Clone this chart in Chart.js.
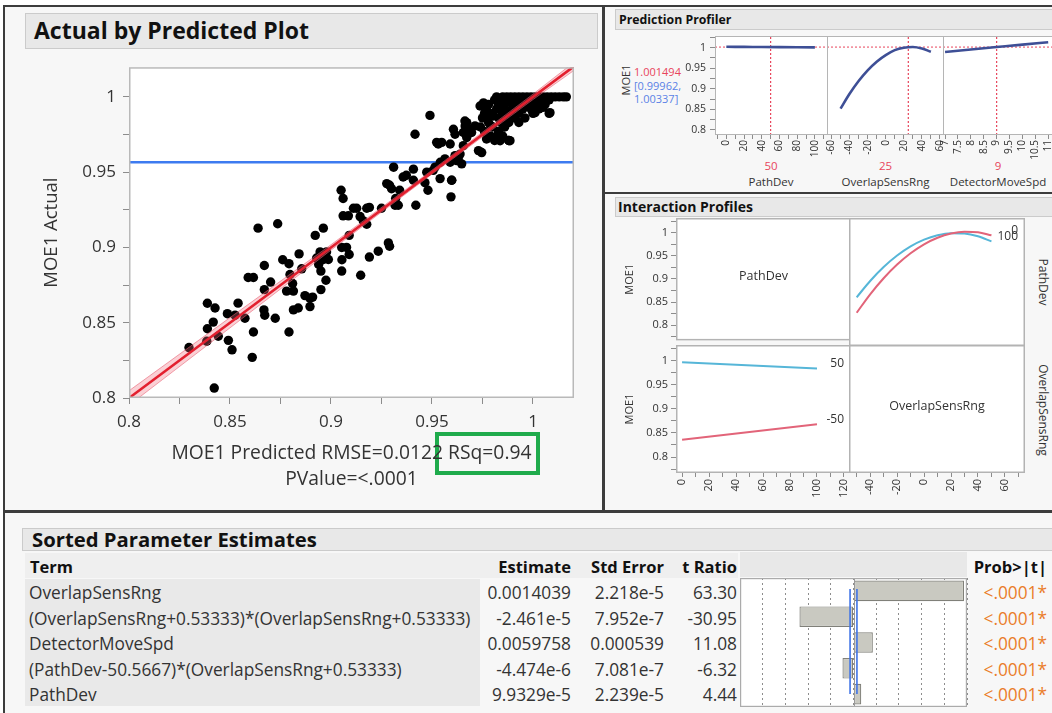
<!DOCTYPE html>
<html><head><meta charset="utf-8">
<script src="https://cdn.jsdelivr.net/npm/chart.js@4.4.1/dist/chart.umd.min.js"></script>
<style>
html,body{margin:0;padding:0}
body{width:1052px;height:713px;position:relative;overflow:hidden;background:#fff;font-family:'Open Sans',sans-serif;color:#222}
.abs{position:absolute;white-space:nowrap}
.pan{position:absolute;background:#f7f7f7}
.hdr{position:absolute;background:#e8e8e8;border:1px solid #cbcbcb;box-sizing:border-box;font-weight:bold;color:#111;white-space:nowrap;overflow:hidden}
.ln{position:absolute;background:#3c3c3c}
canvas{position:absolute}
.c{transform:translate(-50%,-50%)}
</style></head><body>
<div class="pan" style="left:5px;top:7px;width:598px;height:504px"></div>
<div class="pan" style="left:605px;top:7px;width:447px;height:185px"></div>
<div class="pan" style="left:605px;top:194px;width:447px;height:317px"></div>
<div class="pan" style="left:5px;top:513px;width:1047px;height:200px"></div>
<div class="ln" style="left:3px;top:5px;width:1049px;height:2px"></div>
<div class="ln" style="left:3px;top:5px;width:2px;height:708px"></div>
<div class="ln" style="left:602px;top:5px;width:3px;height:507px"></div>
<div class="ln" style="left:3px;top:510px;width:1049px;height:3px"></div>
<div class="ln" style="left:605px;top:192px;width:447px;height:2px"></div>

<div class="hdr" style="left:25px;top:13px;width:573px;height:36px;font-size:23px;line-height:33px;padding-left:8px">Actual by Predicted Plot</div>
<div class="hdr" style="left:615px;top:9px;width:440px;height:21px;font-size:12.3px;line-height:19px;padding-left:3px">Prediction Profiler</div>
<div class="hdr" style="left:615px;top:197px;width:440px;height:20px;font-size:14px;line-height:18px;padding-left:2px">Interaction Profiles</div>
<div class="hdr" style="left:22px;top:528px;width:1035px;height:23px;font-size:20.3px;line-height:21px;padding-left:9px">Sorted Parameter Estimates</div>

<div id="extra"></div>

<script>
// ---------------- DATA ----------------
const predicted = [0.8297,0.8422,0.8388,0.8426,0.8388,0.8385,0.8417,0.8442,0.8492,0.8510,0.8487,0.8540,0.8525,0.8574,0.8616,0.8610,0.8590,0.8616,0.8670,0.8670,0.8668,0.8672,0.8701,0.8724,0.8639,0.8736,0.8761,0.8792,0.8797,0.8780,0.8814,0.8810,0.8792,0.8814,0.8838,0.8855,0.8842,0.8871,0.8909,0.8896,0.8922,0.8962,0.8929,0.8939,0.8950,0.8962,0.8978,0.8987,0.8975,0.8950,0.9050,0.9060,0.9060,0.9086,0.9090,0.9053,0.9077,0.9090,0.9054,0.9053,0.9147,0.9127,0.9177,0.9190,0.9160,0.9177,0.9190,0.9234,0.9284,0.9290,0.9250,0.9290,0.9310,0.9300,0.9320,0.9340,0.9357,0.9333,0.9408,0.9420,0.9416,0.9490,0.9408,0.9465,0.9480,0.9515,0.9523,0.9548,0.9590,0.9606,0.9597,0.9594,0.9590,0.9622,0.9639,0.9655,0.9664,0.9672,0.9696,0.9713,0.9730,0.9746,0.9738,0.9755,0.9762,0.9770,0.9790,0.9804,0.9820,0.9838,0.9880,0.9860,1.0002,1.0084,1.0050,
0.8896,0.8946,0.9111,0.9144,0.9276,0.9317,0.9373,0.9474,0.9541,0.9564,0.9614,0.9672,0.9688,0.9531,0.9614,0.9663,0.9655,0.9688,0.9787,0.9828,0.9837,0.9886,1.0010,0.9506,0.9540,0.9598,0.9630,0.9647,
0.982,0.985,0.987,0.989,0.991,0.993,0.995,0.997,0.999,1.001,1.003,1.005,1.007,1.009,1.011,1.013,1.015,1.0165,
0.981,0.984,0.988,0.992,0.996,1.000,1.004,1.008,
0.978,0.983,0.986,0.990,0.994,0.998,1.002,1.006,
0.977,0.982,0.986,0.990,0.995,0.999,1.003,
0.976,0.980,0.985,0.989,0.993,1.000,1.008,
0.975,0.983,0.987,0.991,0.996,
0.978,0.984,0.988,0.993,
0.974,0.980,0.986,
0.976,0.983,0.979,0.985,0.981,0.988];
const actual = [0.8335,0.8066,0.8629,0.8598,0.8460,0.8377,0.8504,0.8410,0.8383,0.8320,0.8560,0.8630,0.8550,0.8530,0.8438,0.8270,0.8800,0.8800,0.8880,0.8720,0.8585,0.8550,0.8770,0.8530,0.9128,0.9157,0.8918,0.8892,0.8820,0.8710,0.8710,0.8760,0.8438,0.8585,0.8598,0.8858,0.8957,0.8680,0.8670,0.8607,0.9080,0.9128,0.8930,0.8887,0.8843,0.8920,0.8970,0.8920,0.8782,0.8720,0.9380,0.9325,0.9210,0.9210,0.9080,0.9000,0.9000,0.8953,0.8918,0.8843,0.8815,0.9260,0.9260,0.9266,0.9176,0.9154,0.8936,0.8975,0.9030,0.9008,0.9260,0.9413,0.9533,0.9390,0.9325,0.9380,0.9468,0.9280,0.9520,0.9280,0.9752,0.9877,0.9446,0.9430,0.9380,0.9533,0.9698,0.9698,0.9687,0.9785,0.9446,0.9336,0.9566,0.9577,0.9620,0.9676,0.9807,0.9730,0.9763,0.9807,0.9643,0.9630,0.9939,0.9960,0.9763,0.9720,0.9810,0.9873,0.9720,0.9730,0.9710,0.9890,0.9895,0.9895,0.9930,
0.8662,0.8970,0.9260,0.9205,0.9424,0.9280,0.9479,0.9500,0.9566,0.9588,0.9610,0.9829,0.9773,0.9687,0.9752,0.9840,0.9763,0.9785,0.9873,0.9752,0.9709,0.9709,0.9895,0.9512,0.9457,0.9446,0.9588,0.9555,
1.000,1.000,1.000,1.000,1.000,1.000,1.000,1.000,1.000,1.000,1.000,1.000,1.000,1.000,1.000,1.000,1.000,1.000,
0.998,0.998,0.998,0.998,0.998,0.998,0.998,0.998,
0.995,0.995,0.995,0.995,0.995,0.995,0.995,0.995,
0.992,0.992,0.992,0.992,0.992,0.992,0.992,
0.989,0.989,0.989,0.989,0.989,0.989,0.989,
0.986,0.986,0.986,0.986,0.986,
0.983,0.983,0.983,0.983,
0.980,0.980,0.980,
0.977,0.977,0.974,0.974,0.971,0.971];
const fitX = [0.8, 1.0203];
const fitY = [0.8, 1.0203];
const bandX = [0.8, 0.85, 0.9, 0.95, 1.0, 1.0203];
const bandLo = [0.7952, 0.8466, 0.8982, 0.9487, 0.9982, 1.0176];
const bandHi = [0.8048, 0.8534, 0.9018, 0.9513, 1.0018, 1.0230];
const meanActual = 0.9566;
const fitStats = ['MOE1 Predicted RMSE=0.0122 RSq=0.94', 'PValue=<.0001'];

const profFactors = ['PathDev', 'OverlapSensRng', 'DetectorMoveSpd'];
const profSettings = [50, 25, 9];
const profPred = 1.001494;
const profCI = ['[0.99962,', '1.00337]'];
const pathDevGrid = [0, 20, 40, 60, 80, 100];
const profPathDev = [1.0022, 1.0019, 1.0016, 1.0013, 1.0010, 1.0007];
const overlapGrid = [-50, -40, -30, -20, -10, 0, 10, 20, 30, 40, 50];
const profOverlap = [0.852, 0.888, 0.919, 0.945, 0.966, 0.982, 0.994, 1.000, 1.0016, 0.998, 0.990];
const detGrid = [7, 8, 9, 10, 11];
const profDet = [0.9895, 0.9955, 1.0015, 1.0075, 1.0134];

const intOverlapGrid = [-50, -40, -30, -20, -10, 0, 10, 20, 30, 40, 50];
const intPathLevels = ['0', '100'];
const intPath0 = [0.8358, 0.8740, 0.9073, 0.9356, 0.9590, 0.9775, 0.9911, 0.9998, 1.0035, 1.0023, 0.9962];
const intPath100 = [0.8679, 0.9016, 0.9304, 0.9542, 0.9732, 0.9872, 0.9963, 1.0005, 0.9998, 0.9941, 0.9835];
const intPathGrid = [0, 100];
const intOverlapLevels = ['50', '-50'];
const intOv50 = [0.9962, 0.9835];
const intOvm50 = [0.8358, 0.8679];

const terms = ['OverlapSensRng', '(OverlapSensRng+0.53333)*(OverlapSensRng+0.53333)', 'DetectorMoveSpd', '(PathDev-50.5667)*(OverlapSensRng+0.53333)', 'PathDev'];
const estimates = ['0.0014039', '-2.461e-5', '0.0059758', '-4.474e-6', '9.9329e-5'];
const stdErrors = ['2.218e-5', '7.952e-7', '0.000539', '7.081e-7', '2.239e-5'];
const tRatios = [63.30, -30.95, 11.08, -6.32, 4.44];
const probs = ['<.0001*', '<.0001*', '<.0001*', '<.0001*', '<.0001*'];
const tCrit = 1.97;

// ---------------- HELPERS ----------------
const FONT = "'Open Sans', sans-serif";
Chart.defaults.font.family = FONT;
Chart.defaults.color = '#333';
Chart.defaults.animation = false;
Chart.defaults.devicePixelRatio = 1;
Chart.defaults.plugins.legend.display = false;
Chart.defaults.plugins.tooltip.enabled = false;

const framePlugin = {
  id: 'frame',
  beforeDraw(chart, a, o) {
    if (!o.bg) return;
    const c = chart.ctx, r = chart.chartArea;
    c.save(); c.fillStyle = o.bg; c.fillRect(r.left, r.top, r.right - r.left, r.bottom - r.top); c.restore();
  },
  afterDraw(chart, a, o) {
    if (!o.color) return;
    const c = chart.ctx, r = chart.chartArea, w = o.width || 1;
    c.save(); c.strokeStyle = o.color; c.lineWidth = w;
    c.strokeRect(r.left + w / 2, r.top + w / 2, r.right - r.left - w, r.bottom - r.top - w);
    c.restore();
  }
};
const textPlugin = {
  id: 'cellText',
  afterDraw(chart, a, o) {
    const c = chart.ctx, r = chart.chartArea;
    c.save(); c.font = (o.size || 12) + 'px ' + FONT; c.fillStyle = '#333';
    if (o.center) { c.textAlign = 'center'; c.textBaseline = 'middle'; c.fillText(o.center, (r.left + r.right) / 2, (r.top + r.bottom) / 2 - 3); }
    if (o.endLabels) {
      c.textAlign = 'right'; c.textBaseline = 'middle';
      chart.data.datasets.forEach((ds, i) => {
        if (!o.endLabels[i]) return;
        const meta = chart.getDatasetMeta(i); const p = meta.data[meta.data.length - 1];
        c.fillText(o.endLabels[i], r.right - 7, p.y - 4.5);
      });
    }
    c.restore();
  }
};
Chart.register(framePlugin, textPlugin);

function mk(area, m) {
  const cv = document.createElement('canvas');
  cv.width = area[2] - area[0] + m.l + m.r;
  cv.height = area[3] - area[1] + m.t + m.b;
  cv.style.left = (area[0] - m.l) + 'px';
  cv.style.top = (area[1] - m.t) + 'px';
  document.body.appendChild(cv);
  return cv;
}
const isMul = (v, s) => Math.abs(v / s - Math.round(v / s)) < 1e-6;
function axis(o) {
  const vert = o.pos === 'left' || o.pos === 'right';
  const shown = o.show !== false;
  return {
    type: 'linear', position: o.pos, min: o.min, max: o.max, display: shown,
    afterFit: s => { if (!shown) return; if (vert) s.width = o.fit; else s.height = o.fit; },
    grid: { display: true, drawOnChartArea: false, drawTicks: true, tickLength: o.tick || 5, tickColor: '#8c8c8c', tickWidth: 1 },
    border: { display: false },
    title: o.title ? { display: true, text: o.title, color: '#333', font: { size: o.tsize || 12, family: FONT, lineHeight: o.tlh || 1.2 }, padding: 4 } : { display: false },
    ticks: {
      display: o.labels !== false, stepSize: o.step, includeBounds: false, autoSkip: false,
      maxRotation: o.rot || 0, minRotation: o.rot || 0, padding: o.pad == null ? 3 : o.pad,
      color: '#333', font: { size: o.size || 11, family: FONT },
      callback: v => isMul(v, o.major) ? String(+v.toFixed(3)) : ''
    }
  };
}
const pts = (xs, ys) => xs.map((x, i) => ({ x, y: ys[i] }));
function lineDs(xs, ys, color, w, extra) {
  return Object.assign({ type: 'line', data: pts(xs, ys), borderColor: color, borderWidth: w, pointRadius: 0, fill: false, clip: 0 }, extra || {});
}
function baseOpts(m, xShown, yShown, scales, plugins) {
  return {
    responsive: false, maintainAspectRatio: false, animation: false,
    layout: { padding: { left: yShown ? 0 : m.l, right: m.r, top: m.t, bottom: xShown ? 0 : m.b } },
    scales, plugins: Object.assign({ legend: { display: false }, tooltip: { enabled: false } }, plugins || {})
  };
}

// ---------------- MAIN SCATTER ----------------
(function () {
  const area = [129, 64, 574, 398], m = { l: 92, t: 14, r: 12, b: 99 };
  new Chart(mk(area, m), {
    type: 'scatter',
    data: {
      datasets: [
        lineDs([fitX[0], fitX[1]], [meanActual, meanActual], '#3d7bf0', 2.5, { order: 5 }),
        { type: 'scatter', data: pts(predicted, actual), backgroundColor: '#000', borderColor: '#000', pointRadius: 4.7, borderWidth: 0, order: 4 },
        lineDs(bandX, bandLo, 'rgba(232,90,110,0.55)', 1, { order: 3 }),
        lineDs(bandX, bandHi, 'rgba(232,90,110,0.55)', 1, { order: 2, fill: '-1', backgroundColor: 'rgba(240,110,125,0.32)' }),
        lineDs(fitX, fitY, '#e3202f', 2.6, { order: 1 })
      ]
    },
    options: baseOpts(m, true, true, {
      x: axis({ pos: 'bottom', min: 0.8, max: 1.0203, step: 0.025, major: 0.05, fit: m.b, size: 17, tick: 6, pad: 8, title: fitStats, tsize: 19.3, tlh: 1.38 }),
      y: axis({ pos: 'left', min: 0.8, max: 1.0197, step: 0.025, major: 0.05, fit: m.l, size: 17, tick: 6, pad: 7, title: 'MOE1 Actual', tsize: 18.5 })
    }, { frame: { color: '#b9b9b9', width: 1.5, bg: '#fff' } })
  });
})();

// ---------------- PREDICTION PROFILER ----------------
(function () {
  const yr = { min: 0.7878, max: 1.0284 };
  const cfgs = [
    { area: [715, 36, 828, 135], x: { min: -12.8, max: 114.8, step: 10, major: 20 }, xs: pathDevGrid, ys: profPathDev, yShown: true },
    { area: [827, 36, 944, 135], x: { min: -65, max: 64.5, step: 10, major: 20 }, xs: overlapGrid, ys: profOverlap },
    { area: [943, 36, 1058, 135], x: { min: 6.92, max: 11.38, step: 0.5, major: 0.5 }, xs: detGrid, ys: profDet }
  ];
  cfgs.forEach((c, i) => {
    const m = { l: c.yShown ? 60 : 12, t: 12, r: 12, b: 28 };
    const xa = axis(Object.assign({ pos: 'bottom', fit: m.b, size: 10, tick: 4, pad: 1, rot: 90 }, c.x));
    xa.ticks.callback = v => isMul(v, c.x.major) ? String(+v.toFixed(2)) : '';
    const ya = axis(Object.assign({ pos: 'left', step: 0.025, major: 0.05, fit: m.l, size: 10.5, tick: 5, pad: 4, show: !!c.yShown }, yr));
    const s = profSettings[i];
    new Chart(mk(c.area, m), {
      type: 'scatter',
      data: {
        datasets: [
          lineDs([c.x.min, c.x.max], [profPred, profPred], '#e8455c', 1, { borderDash: [2, 2], order: 3 }),
          lineDs([s, s], [yr.min, yr.max], '#e8455c', 1.2, { borderDash: [2, 2], order: 2 }),
          lineDs(c.xs, c.ys, '#3e4f96', 2.6, { order: 1, cubicInterpolationMode: 'monotone' })
        ]
      },
      options: baseOpts(m, true, !!c.yShown, { x: xa, y: ya }, { frame: { color: '#b5b5b5', width: 1, bg: '#fff' } })
    });
  });
})();

// ---------------- INTERACTION PROFILES ----------------
(function () {
  const yr = { min: 0.767, max: 1.032 };
  const xl = { min: -4.5, max: 125.2, step: 10, major: 20 };
  const xr = { min: -55.7, max: 74.9, step: 10, major: 20 };
  const cells = [
    { area: [676, 218, 851, 346], x: xl, yShown: true, xShown: false, center: profFactors[0], ds: [] },
    { area: [849, 218, 1025, 346], x: xr, yShown: false, xShown: false,
      ds: [lineDs(intOverlapGrid, intPath0, '#e26479', 2, { cubicInterpolationMode: 'monotone' }), lineDs(intOverlapGrid, intPath100, '#56b6d8', 2, { cubicInterpolationMode: 'monotone' })],
      end: intPathLevels },
    { area: [676, 345, 851, 473], x: xl, yShown: true, xShown: true,
      ds: [lineDs(intPathGrid, intOv50, '#56b6d8', 2), lineDs(intPathGrid, intOvm50, '#e26479', 2)], end: intOverlapLevels },
    { area: [849, 345, 1025, 473], x: xr, yShown: false, xShown: true, center: profFactors[1], ds: [] }
  ];
  cells.forEach(c => {
    const m = { l: c.yShown ? 57 : 12, t: 12, r: 12, b: c.xShown ? 30 : 4 };
    const xa = axis(Object.assign({ pos: 'bottom', fit: m.b, size: 11, tick: 4, pad: 2, rot: 90, show: c.xShown }, c.x));
    const ya = axis(Object.assign({ pos: 'left', step: 0.025, major: 0.05, fit: m.l, size: 11, tick: 5, pad: 3, show: c.yShown, title: 'MOE1', tsize: 11 }, yr));
    new Chart(mk(c.area, m), {
      type: 'scatter',
      data: { datasets: c.ds },
      options: baseOpts(m, c.xShown, c.yShown, { x: xa, y: ya }, {
        frame: { color: '#b3b3b3', width: 1.5, bg: '#fff' },
        cellText: { center: c.center, endLabels: c.end, size: c.center ? 12.5 : 12 }
      })
    });
  });
})();

// ---------------- PARAMETER BAR CHART ----------------
(function () {
  const area = [740, 578, 967, 707], m = { l: 2, t: 2, r: 2, b: 2 };
  const critPlugin = {
    id: 'crit',
    afterDatasetsDraw(chart) {
      const c = chart.ctx, x = chart.scales.x, y = chart.scales.y, r = chart.chartArea;
      c.save();
      c.strokeStyle = '#9a9a9a'; c.lineWidth = 1;
      const z = Math.round(x.getPixelForValue(0)) + 0.5;
      c.beginPath(); c.moveTo(z, r.top); c.lineTo(z, r.bottom); c.stroke();
      c.strokeStyle = '#3f73e6'; c.lineWidth = 1.6;
      [-tCrit, tCrit].forEach(t => {
        const px = x.getPixelForValue(t);
        c.beginPath(); c.moveTo(px, y.getPixelForValue(0) - 2); c.lineTo(px, y.getPixelForValue(terms.length - 1)); c.stroke();
      });
      c.restore();
    }
  };
  new Chart(mk(area, m), {
    type: 'bar',
    data: { labels: terms, datasets: [{ data: tRatios, backgroundColor: '#c9c9c1', borderColor: '#808079', borderWidth: 1.2, borderSkipped: false, barPercentage: 0.8, categoryPercentage: 1 }] },
    options: {
      indexAxis: 'y', responsive: false, maintainAspectRatio: false, animation: false,
      layout: { padding: { left: m.l, right: m.r, top: m.t, bottom: m.b } },
      scales: {
        x: { type: 'linear', min: -65, max: 65, display: true, afterFit: s => { s.height = 0; },
          grid: { display: true, drawOnChartArea: true, drawTicks: false, color: '#8d8d8d', lineWidth: 1 },
          border: { display: false, dash: [2, 3] }, ticks: { display: false, stepSize: 13 } },
        y: { type: 'category', display: false }
      },
      plugins: { legend: { display: false }, tooltip: { enabled: false }, frame: { color: '#ababab', width: 1.2, bg: '#fff' } }
    },
    plugins: [critPlugin]
  });
})();

// ---------------- HTML TEXT ----------------
(function () {
  const ex = document.getElementById('extra');
  const add = (html, style, cls) => { const d = document.createElement('div'); d.className = 'abs ' + (cls || ''); d.setAttribute('style', style); d.innerHTML = html; ex.appendChild(d); return d; };
  add('MOE1', 'left:625px;top:80px;font-size:11px;color:#333;transform:translate(-50%,-50%) rotate(-90deg)');
  add(String(profPred), 'left:634px;top:64px;font-size:11px;color:#e8455c');
  add(profCI[0], 'left:634px;top:78px;font-size:11px;color:#5b82e6');
  add(profCI[1], 'left:634px;top:91px;font-size:11px;color:#5b82e6');
  const cx = [771, 885.5, 998];
  profFactors.forEach((f, i) => {
    add(String(profSettings[i]), `left:${cx[i]}px;top:165px;font-size:11.5px;color:#e8455c`, 'c');
    add(f, `left:${cx[i]}px;top:181px;font-size:11.5px;color:#333`, 'c');
  });
  add(profFactors[0], 'left:1043px;top:282px;font-size:12px;color:#333;transform:translate(-50%,-50%) rotate(90deg)');
  add(profFactors[1], 'left:1043px;top:410px;font-size:12px;color:#333;transform:translate(-50%,-50%) rotate(90deg)');
  add('', 'left:435px;top:432px;width:105px;height:43px;box-sizing:border-box;border:4.5px solid #1fab4c');
  // table
  add('', 'left:25px;top:553px;width:713px;height:25px;background:#efefef');
  add('', 'left:25px;top:579px;width:455px;height:127px;background:#e9e9e9');
  add('', 'left:740px;top:552px;width:227px;height:25px;background:#e8e8e8');
  const hdrStyle = 'font-size:16.5px;font-weight:bold;color:#111;top:566px;transform:translateY(-50%)';
  add('Term', 'left:30px;' + hdrStyle);
  add('Estimate', 'right:' + (1052 - 571) + 'px;' + hdrStyle);
  add('Std Error', 'right:' + (1052 - 664) + 'px;' + hdrStyle);
  add('t Ratio', 'right:' + (1052 - 737) + 'px;' + hdrStyle);
  add('Prob&gt;|t|', 'right:' + (1052 - 1047) + 'px;' + hdrStyle);
  const rowY = [592, 617.5, 643, 668.5, 694];
  const cell = 'font-size:17.3px;color:#333;transform:translateY(-50%);';
  terms.forEach((t, i) => {
    add(t, `left:29px;top:${rowY[i]}px;` + cell);
    add(estimates[i], `right:${1052 - 571}px;top:${rowY[i]}px;` + cell);
    add(stdErrors[i], `right:${1052 - 664}px;top:${rowY[i]}px;` + cell);
    add(tRatios[i].toFixed(2), `right:${1052 - 737}px;top:${rowY[i]}px;` + cell);
    add(probs[i].replace('<', '&lt;'), `right:${1052 - 1047}px;top:${rowY[i]}px;` + cell + 'color:#ea7d2a');
  });
})();
</script>
</body></html>
